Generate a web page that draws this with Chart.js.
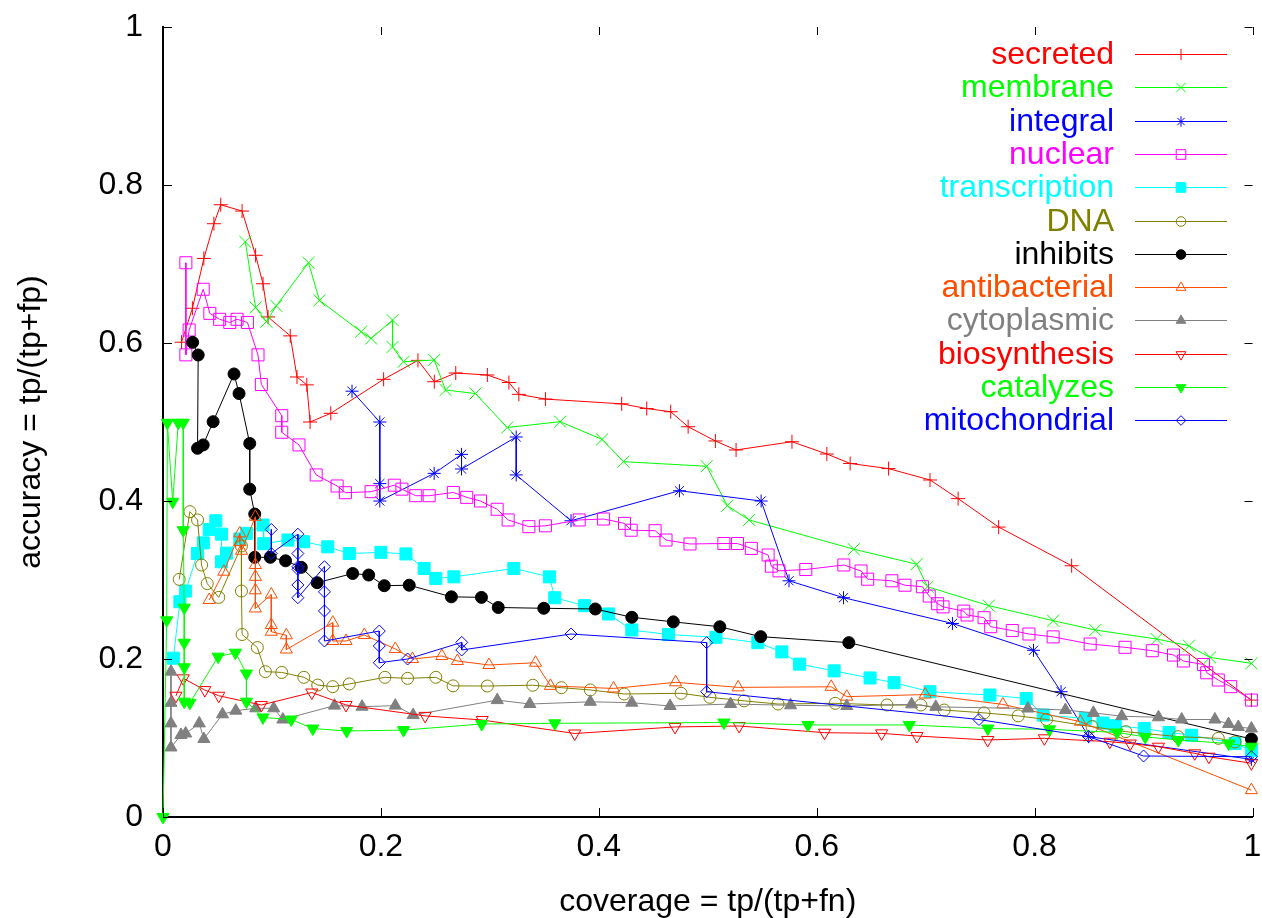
<!DOCTYPE html>
<html><head><meta charset="utf-8">
<script src="https://cdn.jsdelivr.net/npm/chart.js@4.4.0/dist/chart.umd.min.js"></script>
<style>html,body{margin:0;padding:0;background:#fff;}#wrap{width:1262px;height:918px;}</style>
</head><body><div id="wrap"><canvas id="c" width="1262" height="918"></canvas></div>
<script>
// ---- data: [coverage, accuracy] pairs per series ----
const seriesNames = ['secreted','membrane','integral','nuclear','transcription','DNA','inhibits','antibacterial','cytoplasmic','biosynthesis','catalyzes','mitochondrial'];
const xTickValues = [0,0.2,0.4,0.6,0.8,1];
const xTickLabels = ['0','0.2','0.4','0.6','0.8','1'];
const yTickValues = [0,0.2,0.4,0.6,0.8,1];
const yTickLabels = ['0','0.2','0.4','0.6','0.8','1'];

const secreted = [[0.017,0.601],[0.027,0.644],[0.0375,0.707],[0.0467,0.751],[0.053,0.775],[0.0726,0.767],[0.085,0.711],[0.0918,0.675],[0.0964,0.633],[0.1168,0.609],[0.123,0.557],[0.132,0.547],[0.135,0.500],[0.154,0.511],[0.2025,0.554],[0.234,0.578],[0.249,0.551],[0.2687,0.562],[0.2977,0.5595],[0.3175,0.550],[0.3266,0.535],[0.351,0.529],[0.421,0.523],[0.444,0.517],[0.466,0.513],[0.482,0.494],[0.507,0.476],[0.526,0.4646],[0.5773,0.475],[0.6093,0.4595],[0.6307,0.4475],[0.666,0.441],[0.704,0.4266],[0.7298,0.403],[0.767,0.367],[0.834,0.318],[0.999,0.148]];
const membrane = [[0.0756,0.728],[0.085,0.645],[0.0949,0.627],[0.104,0.647],[0.1336,0.7016],[0.1436,0.654],[0.1818,0.6143],[0.191,0.6057],[0.2107,0.629],[0.2107,0.595],[0.2208,0.5763],[0.2489,0.5785],[0.2594,0.5405],[0.2868,0.536],[0.316,0.493],[0.3645,0.5004],[0.403,0.478],[0.4227,0.4498],[0.499,0.444],[0.518,0.394],[0.538,0.376],[0.634,0.339],[0.6917,0.320],[0.7017,0.2915],[0.758,0.2675],[0.817,0.2485],[0.8557,0.2367],[0.912,0.2253],[0.9417,0.2168],[0.961,0.202],[0.999,0.1945]];
const integral = [[0.1735,0.539],[0.199,0.500],[0.199,0.422],[0.199,0.400],[0.2489,0.435],[0.274,0.459],[0.274,0.4405],[0.3242,0.481],[0.3242,0.433],[0.3745,0.375],[0.474,0.413],[0.549,0.400],[0.5746,0.299],[0.6246,0.2776],[0.7246,0.245],[0.799,0.211],[0.8243,0.1586],[0.8496,0.1017],[0.999,0.073]];
const nuclear = [[0.021,0.7016],[0.021,0.585],[0.024,0.6165],[0.0369,0.668],[0.043,0.6375],[0.052,0.630],[0.0613,0.626],[0.068,0.630],[0.0775,0.626],[0.0872,0.585],[0.0903,0.5475],[0.109,0.508],[0.109,0.487],[0.1248,0.471],[0.1406,0.433],[0.1598,0.419],[0.1674,0.4105],[0.191,0.4118],[0.2123,0.420],[0.2193,0.415],[0.232,0.4067],[0.2443,0.4067],[0.2665,0.4108],[0.2788,0.4046],[0.2914,0.400],[0.3067,0.3895],[0.3168,0.376],[0.3358,0.3675],[0.351,0.3686],[0.382,0.376],[0.4044,0.3772],[0.4236,0.3717],[0.4297,0.363],[0.4517,0.3624],[0.4617,0.3506],[0.4837,0.3456],[0.5148,0.3462],[0.5273,0.3462],[0.540,0.340],[0.5554,0.3316],[0.5584,0.3175],[0.5654,0.3116],[0.590,0.3133],[0.6249,0.319],[0.6407,0.3114],[0.6468,0.301],[0.669,0.299],[0.681,0.2934],[0.697,0.2915],[0.7033,0.2797],[0.711,0.270],[0.716,0.266],[0.735,0.2606],[0.738,0.2557],[0.7536,0.2523],[0.7597,0.2409],[0.7795,0.236],[0.7948,0.2316],[0.817,0.228],[0.851,0.219],[0.883,0.2148],[0.908,0.2105],[0.9275,0.205],[0.9366,0.1975],[0.955,0.193],[0.958,0.1826],[0.9686,0.1734],[0.980,0.165],[0.999,0.148]];
const transcription = [[0.0095,0.201],[0.0155,0.2725],[0.0208,0.286],[0.0316,0.3335],[0.037,0.347],[0.0424,0.364],[0.0485,0.375],[0.0537,0.358],[0.0537,0.323],[0.0583,0.334],[0.0705,0.352],[0.0766,0.359],[0.0918,0.3696],[0.0924,0.346],[0.1147,0.3506],[0.129,0.3485],[0.1512,0.342],[0.171,0.3335],[0.20,0.335],[0.223,0.333],[0.2397,0.3146],[0.2504,0.302],[0.267,0.304],[0.322,0.3146],[0.3547,0.304],[0.3596,0.2775],[0.387,0.2675],[0.409,0.257],[0.4303,0.2367],[0.4639,0.231],[0.5075,0.2275],[0.546,0.2207],[0.568,0.209],[0.5843,0.1935],[0.616,0.185],[0.649,0.176],[0.671,0.170],[0.704,0.1586],[0.759,0.1544],[0.7923,0.150],[0.8079,0.129],[0.8466,0.1248],[0.8628,0.119],[0.874,0.1155],[0.9006,0.112],[0.9234,0.107],[0.944,0.1035],[0.984,0.093],[0.999,0.084]];
const dna = [[0.0149,0.3008],[0.0247,0.3865],[0.0317,0.376],[0.0354,0.319],[0.0406,0.2955],[0.0512,0.278],[0.072,0.343],[0.072,0.286],[0.0726,0.231],[0.0866,0.2145],[0.094,0.184],[0.109,0.183],[0.1293,0.1768],[0.142,0.167],[0.1558,0.165],[0.171,0.1684],[0.2037,0.1768],[0.2245,0.1755],[0.2504,0.1768],[0.2662,0.166],[0.2977,0.1658],[0.3394,0.1668],[0.3657,0.1637],[0.3922,0.1608],[0.4233,0.1557],[0.4755,0.1566],[0.502,0.1515],[0.5334,0.147],[0.5645,0.143],[0.617,0.1439],[0.6645,0.1418],[0.6956,0.1418],[0.717,0.1354],[0.7536,0.1318],[0.785,0.128],[0.811,0.1234],[0.8527,0.1143],[0.8838,0.108],[0.9317,0.1017],[0.9686,0.0996],[0.984,0.095]];
const inhibits = [[0.0272,0.6008],[0.0323,0.5848],[0.0317,0.4667],[0.0369,0.471],[0.046,0.5004],[0.0652,0.5608],[0.0698,0.536],[0.0796,0.4728],[0.0796,0.415],[0.0842,0.3835],[0.0842,0.3287],[0.0985,0.3287],[0.1125,0.3243],[0.1269,0.316],[0.1415,0.2966],[0.1741,0.3082],[0.1888,0.3063],[0.2031,0.2928],[0.226,0.2934],[0.2647,0.2787],[0.2923,0.278],[0.3077,0.2652],[0.3495,0.2642],[0.3968,0.2633],[0.4303,0.2528],[0.4684,0.247],[0.5111,0.2408],[0.5486,0.2283],[0.6295,0.2207],[0.999,0.0987]];
const antibacterial = [[0.0424,0.2747],[0.0558,0.3105],[0.0705,0.359],[0.0705,0.348],[0.072,0.337],[0.0848,0.380],[0.0848,0.319],[0.0848,0.304],[0.0848,0.287],[0.0848,0.264],[0.0994,0.2816],[0.0994,0.243],[0.0994,0.2345],[0.1132,0.230],[0.1132,0.212],[0.1558,0.246],[0.1558,0.2228],[0.168,0.2228],[0.1848,0.2304],[0.2132,0.2127],[0.229,0.200],[0.2559,0.2038],[0.2702,0.1975],[0.2992,0.1924],[0.3419,0.1953],[0.3556,0.166],[0.4135,0.1627],[0.4705,0.1705],[0.5279,0.1641],[0.6133,0.1648],[0.6276,0.1523],[0.6996,0.155],[0.7709,0.1425],[0.842,0.1206],[0.999,0.034]];
const cytoplasmic = [[0.0073,0.184],[0.0073,0.1445],[0.0073,0.1185],[0.0073,0.088],[0.0165,0.1038],[0.0208,0.1057],[0.0333,0.1185],[0.0375,0.0987],[0.0546,0.130],[0.0668,0.1346],[0.0851,0.1376],[0.1016,0.1376],[0.110,0.1234],[0.1574,0.141],[0.1827,0.1396],[0.2132,0.141],[0.2296,0.129],[0.3068,0.148],[0.3367,0.143],[0.3922,0.1458],[0.4303,0.1447],[0.4654,0.1405],[0.5209,0.143],[0.576,0.1414],[0.6276,0.1405],[0.6871,0.1426],[0.7093,0.1394],[0.7938,0.1373],[0.8283,0.1354],[0.854,0.1318],[0.880,0.1276],[0.9137,0.1262],[0.935,0.1234],[0.9655,0.1234],[0.978,0.1177],[0.987,0.114],[0.999,0.112]];
const biosynthesis = [[0.0119,0.1535],[0.0186,0.1755],[0.0384,0.1607],[0.0512,0.1535],[0.0903,0.1418],[0.1366,0.1576],[0.168,0.1418],[0.2406,0.128],[0.293,0.1228],[0.3779,0.1057],[0.470,0.114],[0.5288,0.1152],[0.6072,0.1067],[0.6596,0.1059],[0.692,0.1025],[0.757,0.0975],[0.809,0.0996],[0.869,0.0953],[0.8878,0.093],[0.9137,0.089],[0.947,0.0806],[0.960,0.0763],[0.999,0.068]];
const catalyzes = [[0,0],[0.0034,0.249],[0.004,0.499],[0.0089,0.399],[0.014,0.499],[0.0186,0.499],[0.0186,0.363],[0.0195,0.265],[0.0195,0.2206],[0.0195,0.1895],[0.0195,0.146],[0.0247,0.1445],[0.0506,0.203],[0.0665,0.208],[0.0766,0.1816],[0.0766,0.146],[0.0918,0.126],[0.1177,0.1234],[0.1375,0.112],[0.1686,0.1089],[0.2208,0.110],[0.2925,0.1177],[0.3596,0.1186],[0.5148,0.1196],[0.592,0.1165],[0.685,0.1165],[0.757,0.112],[0.8137,0.111],[0.8756,0.107],[0.9015,0.1014],[0.932,0.0975],[0.9781,0.093],[0.999,0.089]];
const mitochondrial = [[0.0994,0.364],[0.0994,0.3335],[0.1238,0.358],[0.1238,0.3335],[0.1238,0.3168],[0.1238,0.3135],[0.1238,0.2937],[0.1238,0.2776],[0.1482,0.3168],[0.1482,0.285],[0.1482,0.2608],[0.1482,0.2228],[0.1985,0.2354],[0.1985,0.2165],[0.1985,0.1953],[0.2245,0.200],[0.2742,0.221],[0.2742,0.2114],[0.3745,0.2316],[0.499,0.2207],[0.499,0.1586],[0.7489,0.1234],[0.8496,0.1017],[0.90,0.0772],[0.999,0.0763]];

const seriesData = [secreted, membrane, integral, nuclear, transcription, dna, inhibits, antibacterial, cytoplasmic, biosynthesis, catalyzes, mitochondrial];
const seriesColors = ['#ff0000','#00ff00','#0000ff','#ff00ff','#00ffff','#808000','#000000','#ff4d00','#808080','#ff0000','#00ff00','#0000ff'];
// marker styles: [pointStyle, radius, filled, rotation]
const seriesMarkers = [
  ['cross',7,false,0],['crossRot',8.5,false,0],['star',6.5,false,0],['rect',8.5,false,0],
  ['rect',8.5,true,0],['circle',6,false,0],['circle',6,true,0],['triangle',7,false,0],
  ['triangle',7,true,0],['triangle',7,false,180],['triangle',7,true,180],['rectRot',6,false,0]
];

const FONT = "'Liberation Sans', Arial, Helvetica, sans-serif";

const datasets = seriesNames.map((name, i) => {
  const m = seriesMarkers[i];
  return {
    label: name,
    data: seriesData[i].map(p => ({x: p[0], y: p[1]})),
    showLine: true,
    borderColor: seriesColors[i],
    borderWidth: 1,
    backgroundColor: seriesColors[i],
    pointStyle: m[0],
    pointRadius: m[1],
    pointHoverRadius: m[1],
    pointRotation: m[3],
    pointBorderColor: seriesColors[i],
    pointBackgroundColor: m[2] ? seriesColors[i] : 'rgba(0,0,0,0)',
    pointBorderWidth: 1,
    tension: 0,
    clip: false,
    order: seriesNames.length - i
  };
});

const mirrorTicks = {
  id: 'mirrorTicks',
  afterDatasetsDraw(chart) {
    const {ctx, chartArea: a, scales: {x, y}} = chart;
    ctx.save();
    ctx.strokeStyle = '#000';
    ctx.lineWidth = 1;
    ctx.beginPath();
    x.ticks.forEach(t => {
      const px = Math.round(x.getPixelForValue(t.value)) + 0.5;
      ctx.moveTo(px, a.bottom); ctx.lineTo(px, a.bottom - 9);
      ctx.moveTo(px, a.top); ctx.lineTo(px, a.top + 8);
    });
    y.ticks.forEach(t => {
      const py = Math.round(y.getPixelForValue(t.value)) + 0.5;
      ctx.moveTo(a.left, py); ctx.lineTo(a.left + 9, py);
      ctx.moveTo(a.right, py); ctx.lineTo(a.right - 8, py);
    });
    ctx.stroke();
    ctx.restore();
  }
};

const keyPlugin = {
  id: 'gnuKey',
  afterDraw(chart) {
    const ctx = chart.ctx;
    const textRight = 1114, lineL = 1135, lineR = 1227, mark = 1181, top = 54, step = 33.3;
    ctx.save();
    ctx.font = '32px ' + FONT;
    ctx.textAlign = 'right';
    ctx.textBaseline = 'middle';
    chart.data.datasets.forEach((ds, i) => {
      const yy = Math.round(top + i * step) + 0.5;
      ctx.fillStyle = ds.borderColor;
      ctx.fillText(ds.label, textRight, yy + 1);
      ctx.strokeStyle = ds.borderColor;
      ctx.lineWidth = 1;
      ctx.beginPath(); ctx.moveTo(lineL, yy); ctx.lineTo(lineR, yy); ctx.stroke();
      ctx.fillStyle = ds.pointBackgroundColor;
      ctx.strokeStyle = ds.pointBorderColor;
      Chart.helpers.drawPoint(ctx, {pointStyle: ds.pointStyle, radius: ds.pointRadius * 0.8, rotation: ds.pointRotation, borderWidth: 1}, mark, yy);
    });
    ctx.restore();
  }
};

new Chart(document.getElementById('c'), {
  type: 'scatter',
  data: { datasets },
  plugins: [mirrorTicks, keyPlugin],
  options: {
    responsive: false,
    devicePixelRatio: 1,
    animation: false,
    events: [],
    layout: { padding: { top: 27, right: 6, left: 0, bottom: 0 } },
    plugins: { legend: { display: false }, tooltip: { enabled: false } },
    scales: {
      x: {
        type: 'linear', position: 'bottom', min: 0, max: 1,
        grid: { display: false },
        border: { display: true, color: '#000', width: 2 },
        afterBuildTicks: s => { s.ticks = xTickValues.map(v => ({ value: v })); },
        afterFit: s => { s.height = 101; s.paddingLeft = 0; s.paddingRight = 0; },
        ticks: {
          color: '#000', font: { family: FONT, size: 32, lineHeight: 1 }, padding: 6,
          maxRotation: 0, autoSkip: false,
          callback: (v) => { const k = xTickValues.indexOf(v); return k >= 0 ? xTickLabels[k] : ''; }
        },
        title: { display: true, text: 'coverage = tp/(tp+fn)', color: '#000', font: { family: FONT, size: 32, lineHeight: 1 }, padding: { top: 0, bottom: 0 } }
      },
      y: {
        type: 'linear', position: 'left', min: 0, max: 1,
        grid: { display: false },
        border: { display: true, color: '#000', width: 2 },
        afterBuildTicks: s => { s.ticks = yTickValues.map(v => ({ value: v })); },
        afterFit: s => { s.width = 163; s.paddingTop = 0; s.paddingBottom = 0; },
        ticks: {
          color: '#000', font: { family: FONT, size: 32, lineHeight: 1 }, padding: 12,
          autoSkip: false,
          callback: (v) => { const k = yTickValues.indexOf(v); return k >= 0 ? yTickLabels[k] : ''; }
        },
        title: { display: true, text: 'accuracy = tp/(tp+fp)', color: '#000', font: { family: FONT, size: 32, lineHeight: 1 }, padding: { top: 15, bottom: 0 } }
      }
    }
  }
});
</script></body></html>
